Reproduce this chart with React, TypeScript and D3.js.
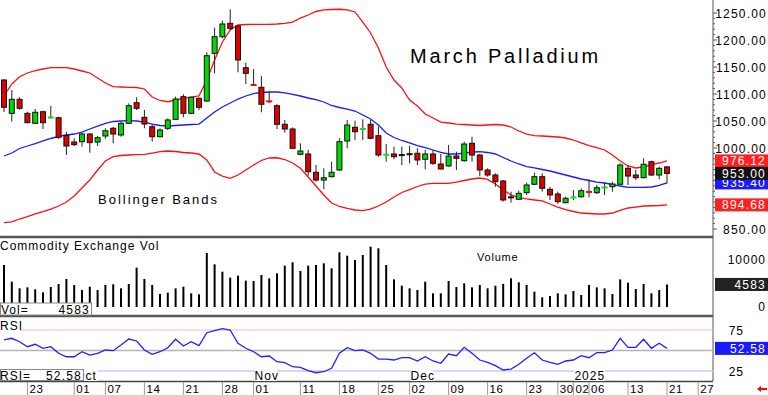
import React from "react";
import * as d3 from "d3";

// daily candles, Sep 18 2024 .. Jan 21 2025 (index = trading day)
const open = [1125.9, 1064.2, 1090.2, 1064.2, 1045.7, 1067.2, 1055.5, 1056.1, 1023.5, 1011.1, 1011.7, 1025.9, 1011.1, 1022.2, 1036.5, 1024.1, 1045.7, 1083.9, 1056.8, 1039.4, 1020.9, 1036.5, 1053.1, 1095.0, 1064.2, 1092.0, 1087.0, 1175.3, 1206.1, 1230.9, 1225.9, 1148.7, 1116.7, 1112.4, 1086.4, 1078.3, 1043.9, 1035.2, 988.3, 988.9, 955.0, 940.7, 946.9, 959.3, 1013.0, 1038.3, 1034.5, 1043.9, 1022.8, 986.5, 988.9, 986.0, 987.5, 990.2, 979.1, 988.9, 970.4, 966.7, 985.2, 976.5, 1008.7, 987.0, 959.3, 950.0, 938.9, 909.5, 905.0, 917.2, 932.8, 946.9, 923.5, 914.8, 898.7, 907.4, 909.8, 918.6, 917.2, 926.0, 928.3, 932.8, 962.4, 950.0, 945.0, 974.6, 950.0, 965.0];
const high = [1127.8, 1107.4, 1093.9, 1067.2, 1072.2, 1069.1, 1077.8, 1058.0, 1030.2, 1018.0, 1028.3, 1027.2, 1022.2, 1036.5, 1039.4, 1048.7, 1082.7, 1093.9, 1070.4, 1042.6, 1036.5, 1055.0, 1095.0, 1099.4, 1095.0, 1093.9, 1177.2, 1222.8, 1235.7, 1256.9, 1227.8, 1158.0, 1146.3, 1133.3, 1104.3, 1080.9, 1051.9, 1038.3, 1008.7, 996.3, 968.5, 962.4, 974.6, 1018.0, 1051.9, 1050.6, 1053.1, 1051.9, 1039.4, 1007.4, 1002.4, 1002.4, 1004.3, 999.4, 996.3, 996.3, 988.9, 1005.6, 993.1, 1011.7, 1020.9, 988.9, 962.4, 953.1, 940.7, 919.1, 920.9, 935.7, 954.3, 953.1, 928.3, 919.1, 909.9, 922.2, 925.4, 942.0, 931.5, 935.7, 937.6, 971.7, 968.5, 959.3, 980.9, 976.5, 965.4, 966.7];
const low = [1066.7, 1048.7, 1070.4, 1045.7, 1044.4, 1035.2, 1055.0, 1016.7, 987.0, 1003.7, 1002.5, 991.3, 1003.7, 1017.2, 1008.7, 1020.9, 1044.4, 1070.4, 1036.5, 1011.7, 1019.8, 1033.3, 1051.9, 1056.8, 1062.9, 1070.4, 1085.7, 1138.3, 1203.1, 1218.5, 1140.2, 1118.5, 1114.8, 1066.1, 1082.7, 1035.2, 1028.3, 998.1, 986.5, 948.7, 937.6, 924.1, 945.7, 957.4, 999.4, 1014.8, 1014.8, 1016.1, 983.9, 974.6, 979.1, 968.5, 971.7, 968.5, 960.6, 968.5, 960.6, 965.4, 959.3, 974.6, 974.6, 948.1, 946.9, 928.3, 900.6, 898.7, 903.7, 913.0, 931.5, 919.1, 903.7, 896.3, 897.6, 903.7, 908.0, 908.7, 914.8, 913.0, 919.1, 931.5, 931.5, 940.7, 943.9, 948.1, 942.0, 934.6];
const close = [1075.4, 1090.2, 1073.5, 1046.9, 1066.1, 1046.9, 1056.5, 1019.8, 1003.7, 1006.2, 1025.9, 1009.9, 1019.1, 1032.0, 1025.9, 1045.7, 1078.3, 1073.5, 1044.4, 1020.9, 1033.3, 1051.9, 1090.7, 1064.2, 1093.9, 1075.4, 1170.9, 1206.1, 1229.6, 1221.6, 1163.0, 1138.3, 1116.0, 1080.9, 1085.7, 1043.9, 1035.2, 999.4, 994.4, 956.1, 940.7, 945.0, 955.0, 1011.7, 1042.6, 1030.2, 1035.2, 1017.9, 987.0, 987.5, 983.9, 988.0, 989.5, 977.8, 988.9, 971.7, 961.1, 985.2, 980.9, 1007.4, 987.0, 959.3, 950.0, 937.6, 903.7, 908.0, 916.1, 931.5, 946.9, 925.4, 913.0, 900.6, 906.9, 908.5, 920.9, 917.5, 926.5, 926.9, 933.3, 968.5, 948.1, 945.0, 969.8, 950.0, 962.4, 953.0];

const bbUpper = [1096.3, 1118.5, 1132.0, 1138.9, 1143.5, 1146.3, 1148.7, 1149.0, 1148.7, 1146.3, 1142.6, 1138.9, 1129.6, 1120.4, 1113.5, 1113.0, 1112.4, 1112.0, 1109.3, 1094.4, 1088.0, 1085.7, 1088.9, 1091.7, 1094.4, 1096.3, 1125.9, 1163.0, 1196.3, 1218.5, 1227.8, 1228.7, 1229.1, 1229.1, 1229.1, 1229.6, 1230.6, 1233.3, 1240.7, 1246.3, 1252.8, 1255.6, 1256.5, 1256.9, 1255.6, 1251.9, 1233.3, 1213.0, 1185.2, 1150.0, 1125.9, 1111.1, 1088.9, 1077.8, 1063.0, 1055.6, 1048.1, 1046.3, 1044.4, 1043.5, 1042.6, 1041.7, 1042.6, 1043.5, 1042.6, 1038.9, 1031.5, 1025.9, 1023.1, 1022.2, 1021.3, 1020.4, 1018.5, 1014.8, 1009.3, 1004.6, 1000.9, 996.3, 987.0, 975.9, 966.7, 963.0, 964.8, 969.4, 972.2, 976.12];
const bbMid = [985.2, 990.7, 999.1, 1003.7, 1008.3, 1013.0, 1017.6, 1021.3, 1024.1, 1025.9, 1029.6, 1035.2, 1040.7, 1045.4, 1049.1, 1050.0, 1050.6, 1050.0, 1048.1, 1044.4, 1041.7, 1040.7, 1041.7, 1042.6, 1043.5, 1044.4, 1055.6, 1066.7, 1075.9, 1083.3, 1090.7, 1096.3, 1100.9, 1102.8, 1103.7, 1103.7, 1101.9, 1099.1, 1096.3, 1092.6, 1089.8, 1085.2, 1078.7, 1075.0, 1072.2, 1068.5, 1061.1, 1053.7, 1042.6, 1027.8, 1019.4, 1013.9, 1009.3, 1004.6, 1000.9, 996.3, 991.7, 988.9, 988.9, 990.7, 992.6, 993.1, 991.7, 988.9, 982.4, 975.9, 970.4, 965.7, 963.0, 960.2, 957.4, 953.7, 950.0, 946.3, 942.6, 939.8, 937.0, 935.2, 932.4, 929.6, 927.2, 926.9, 927.2, 927.8, 930.6, 935.40];
const bbLower = [861.7, 863.0, 868.5, 872.8, 877.8, 882.0, 887.0, 892.6, 900.0, 911.1, 925.9, 940.7, 959.3, 975.9, 983.9, 986.1, 987.0, 987.6, 988.3, 990.7, 993.1, 994.4, 993.5, 991.7, 990.7, 988.9, 977.8, 955.6, 948.1, 943.9, 950.0, 959.3, 968.5, 976.9, 981.5, 981.9, 978.7, 972.2, 962.4, 946.3, 929.6, 913.0, 898.1, 891.7, 888.0, 885.2, 883.9, 887.0, 892.6, 900.0, 909.3, 917.6, 923.1, 928.7, 933.3, 934.6, 934.6, 934.6, 937.0, 939.8, 942.6, 944.4, 941.7, 933.3, 922.2, 913.0, 908.3, 905.6, 903.7, 901.9, 896.3, 890.7, 886.1, 882.4, 879.6, 878.7, 877.8, 877.8, 879.6, 884.3, 888.9, 890.7, 892.6, 893.1, 893.5, 894.68];

const volume = [8725, 5170, 3760, 3970, 3550, 2910, 4040, 4680, 5745, 4470, 3400, 4110, 3400, 4470, 4610, 3760, 4680, 8160, 5745, 4470, 2550, 2840, 3760, 4110, 2700, 2480, 11280, 8870, 7300, 6030, 6450, 5390, 5320, 6600, 5890, 6960, 8580, 9300, 7450, 8580, 8725, 9080, 8020, 11420, 10700, 9790, 10850, 12620, 12280, 8725, 5670, 4320, 3760, 3400, 5170, 2700, 2700, 5320, 4040, 4830, 3970, 4470, 3760, 4320, 4700, 5890, 5040, 4470, 3050, 1850, 2130, 2700, 2480, 3190, 2340, 4470, 3970, 3760, 2550, 5670, 4960, 3620, 4680, 2700, 3400, 4583];

const rsi = [63.0, 64.9, 60.7, 54.6, 57.6, 52.7, 54.6, 46.6, 42.4, 42.4, 48.5, 44.5, 46.6, 50.6, 49.8, 56.7, 64.0, 61.6, 50.6, 45.4, 48.5, 53.4, 63.7, 55.5, 60.7, 55.9, 71.7, 74.1, 76.6, 75.0, 58.8, 52.7, 48.5, 42.4, 43.3, 36.3, 35.1, 30.2, 29.5, 25.4, 22.9, 24.1, 28.3, 46.6, 53.4, 49.8, 50.6, 46.6, 39.6, 39.6, 38.4, 41.2, 41.2, 37.2, 42.4, 37.2, 34.4, 45.7, 43.7, 53.9, 46.6, 38.4, 35.6, 31.5, 26.2, 27.4, 33.2, 40.5, 47.3, 38.4, 35.6, 33.2, 37.2, 38.4, 43.7, 41.2, 47.3, 47.3, 50.6, 64.9, 53.9, 53.9, 63.7, 52.7, 58.8, 52.58];

const dateTickIdx = [3, 9, 13, 18, 23, 28, 32, 38, 43, 48, 52, 57, 62, 67, 71, 73, 75, 80, 85, 89];
const dateTickLabels = ["23", "01", "07", "14", "21", "28", "01", "11", "18", "25", "02", "09", "16", "23", "30", "02", "06", "13", "21", "27"];
const monthIdx = [9, 32, 52, 73];
const monthLabels = ["Oct", "Nov", "Dec", "2025"];
const priceTicks = [850, 900, 950, 1000, 1050, 1100, 1150, 1200, 1250];
const volTicks = [0, 10000];
const rsiTicks = [25, 75];

const FONT = "'Liberation Sans', Arial, sans-serif";
const RIGHT = 713;

export default function App() {
  const n = close.length;
  const x = d3.scaleLinear().domain([0, n - 1]).range([4, 667]);
  const yP = d3.scaleLinear().domain([850, 1250]).range([229, 13]);
  const yV = d3.scaleLinear().domain([0, 10000]).range([306, 259]);
  const yR = d3.scaleLinear().domain([25, 75]).range([371, 330]);

  const band = d3.line<number>().x((_, i) => x(i)).y((d) => yP(d));
  const rsiLine = d3.line<number>().x((_, i) => x(i)).y((d) => yR(d));

  const last = n - 1;
  const minorTicks = d3.range(850, 1260, 10);

  // last values flagged on the price axis; tick labels hidden behind them are skipped
  const priceFlags = [bbLower[last], bbMid[last], bbUpper[last], close[last]];
  const hidden = (t: number) => priceFlags.some((v) => Math.abs(yP(v) - yP(t)) < 7);

  const markerBox = (v: number, bg: string, fg: string, txt: string, y: (d: number) => number) => (
    <g key={txt + bg}>
      <rect x={RIGHT + 2} y={y(v) - 6.5} width={768 - RIGHT - 2} height={13} fill={bg} />
      <text x={766} y={y(v) + 4.5} textAnchor="end" fill={fg} fontSize={12} letterSpacing={1.2}>{txt}</text>
    </g>
  );

  return (
    <svg width={768} height={395} style={{ position: "absolute", left: 0, top: 0, background: "#fff" }} fontFamily={FONT}>
      <rect width={768} height={395} fill="#fff" />

      {/* price panel */}
      <text x={410} y={63} fontSize={20} letterSpacing={2.8}>March Palladium</text>
      <text x={98} y={204} fontSize={13} letterSpacing={2}>Bollinger Bands</text>
      <path d={band(bbUpper) ?? ""} fill="none" stroke="#ff1010" strokeWidth={1.3} />
      <path d={band(bbLower) ?? ""} fill="none" stroke="#ff1010" strokeWidth={1.3} />
      <path d={band(bbMid) ?? ""} fill="none" stroke="#1a1aff" strokeWidth={1.3} />

      {close.map((c, i) => {
        const o = open[i];
        const cx = x(i);
        const up = c >= o;
        const doji = Math.abs(c - o) < 1.5;
        const top = yP(Math.max(o, c));
        const bot = yP(Math.min(o, c));
        return (
          <g key={i}>
            <line x1={cx} x2={cx} y1={yP(high[i])} y2={yP(low[i])} stroke="#222" strokeWidth={1} />
            {doji ? (
              <rect x={cx - 3} y={top - 1} width={6} height={2} fill={up ? "#10e010" : "#e81010"} />
            ) : (
              <rect x={cx - 2.5} y={top} width={5} height={Math.max(1, bot - top)} fill={up ? "#00d800" : "#e00000"} stroke="#111" strokeWidth={1} />
            )}
          </g>
        );
      })}

      {/* panel separators */}
      <line x1={0} x2={RIGHT} y1={237} y2={237} stroke="#555" strokeWidth={2.5} />
      <line x1={0} x2={RIGHT} y1={316} y2={316} stroke="#555" strokeWidth={2.5} />
      <line x1={0} x2={RIGHT} y1={381.5} y2={381.5} stroke="#444" strokeWidth={1.5} />
      <line x1={RIGHT} x2={RIGHT} y1={0} y2={381} stroke="#555" strokeWidth={1} />

      {/* volume panel */}
      <text x={0} y={250} fontSize={12} letterSpacing={1}>Commodity Exchange Vol</text>
      <text x={477} y={261} fontSize={11} letterSpacing={0.8}>Volume</text>
      {volume.map((v, i) => (
        <rect key={i} x={x(i) - 1} y={yV(v)} width={2} height={yV(0) - yV(v) + 1} fill="#000" />
      ))}
      <rect x={0.5} y={303} width={91} height={12} fill="#fff" stroke="#888" />
      <text x={1} y={313.5} fontSize={12} letterSpacing={1}>Vol=</text>
      <text x={90} y={313.5} fontSize={12} letterSpacing={1.2} textAnchor="end">{volume[last]}</text>

      {/* RSI panel */}
      <line x1={20} x2={RIGHT} y1={yR(75)} y2={yR(75)} stroke="#ffb4b4" strokeWidth={1} />
      <line x1={0} x2={RIGHT} y1={yR(50)} y2={yR(50)} stroke="#b4b4b4" strokeWidth={1.5} />
      <line x1={0} x2={RIGHT} y1={yR(25)} y2={yR(25)} stroke="#c8c8ff" strokeWidth={1.5} />
      <text x={0} y={330} fontSize={12} letterSpacing={1}>RSI</text>
      <path d={rsiLine(rsi) ?? ""} fill="none" stroke="#2020ff" strokeWidth={1.3} />
      {monthIdx.map((m, k) => (
        <g key={m}>
          <rect x={x(m) + 1} y={370} width={monthLabels[k].length * 7.5} height={11} fill="#fff" />
          <text x={x(m) + 1} y={380} fontSize={12} letterSpacing={1}>{monthLabels[k]}</text>
        </g>
      ))}
      <rect x={0.5} y={369.5} width={83} height={11} fill="#fff" stroke="#888" />
      <text x={0} y={379.5} fontSize={12} letterSpacing={1}>RSI=</text>
      <text x={82} y={379.5} fontSize={12} letterSpacing={1.2} textAnchor="end">{rsi[last].toFixed(2)}</text>

      {/* date axis */}
      {dateTickIdx.map((d, k) => (
        <g key={k}>
          <line x1={x(d)} x2={x(d)} y1={382} y2={395} stroke="#999" strokeWidth={1} />
          <text x={x(d) + 2} y={393} fontSize={11.5} letterSpacing={0.6}>{dateTickLabels[k]}</text>
        </g>
      ))}

      {/* right axis */}
      {minorTicks.map((t) => (
        <line key={t} x1={RIGHT} x2={RIGHT + (t % 50 === 0 ? 4 : 2)} y1={yP(t)} y2={yP(t)} stroke="#555" />
      ))}
      {priceTicks.filter((t) => !hidden(t)).map((t) => (
        <text key={t} x={767} y={yP(t) + 4.5} textAnchor="end" fontSize={12} letterSpacing={1.2}>{t.toFixed(2)}</text>
      ))}
      {markerBox(bbLower[last], "#ff2020", "#fff", bbLower[last].toFixed(2), yP)}
      {markerBox(bbMid[last], "#1a1aff", "#fff", bbMid[last].toFixed(2), yP)}
      {markerBox(bbUpper[last], "#ff2020", "#fff", bbUpper[last].toFixed(2), yP)}
      {markerBox(close[last], "#111", "#fff", close[last].toFixed(2), yP)}

      {volTicks.map((t) => (
        <text key={t} x={766} y={yV(t) + 4.5} textAnchor="end" fontSize={12} letterSpacing={1}>{t}</text>
      ))}
      {markerBox(volume[last], "#222", "#fff", String(volume[last]), yV)}

      {rsiTicks.map((t) => (
        <text key={t} x={744} y={yR(t) + 4.5} textAnchor="end" fontSize={12} letterSpacing={1}>{t}</text>
      ))}
      {markerBox(rsi[last], "#1a1aff", "#fff", rsi[last].toFixed(2), yR)}

      <path d="M757,389 L761,386 L761,388 L767,388 L767,390 L761,390 L761,392 Z" fill="#ff0000" />
    </svg>
  );
}
